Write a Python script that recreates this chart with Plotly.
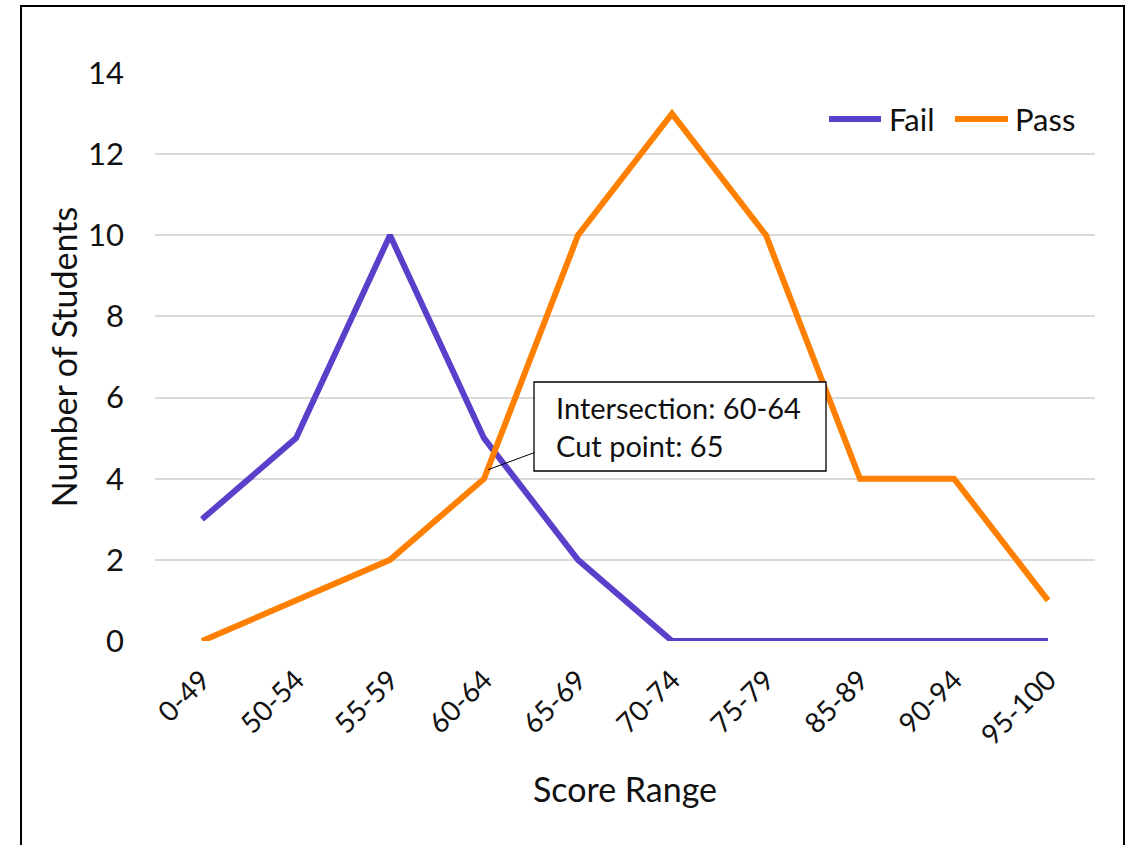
import plotly.graph_objects as go

# Score bands and student counts
score_ranges = ["0-49", "50-54", "55-59", "60-64", "65-69", "70-74",
                "75-79", "85-89", "90-94", "95-100"]
fail_counts = [3, 5, 10, 5, 2, 0, 0, 0, 0, 0]
pass_counts = [0, 1, 2, 4, 10, 13, 10, 4, 4, 1]
y_ticks = [0, 2, 4, 6, 8, 10, 12, 14]

FAIL_COLOR = "#5A3FCB"
PASS_COLOR = "#FF8000"
FONT = "Lato, 'Open Sans', sans-serif"
TEXT_COLOR = "#111111"

W, H = 1133, 845
L, R, T, B = 155, 38, 73, 204
PW, PH = W - L - R, H - T - B


def px_x(px):
    """Horizontal page pixel -> paper fraction."""
    return (px - L) / PW


def px_y(py):
    """Vertical page pixel (from top) -> paper fraction."""
    return (H - B - py) / PH


fig = go.Figure()
fig.add_trace(go.Scatter(
    x=score_ranges, y=fail_counts, name="Fail", mode="lines",
    line=dict(color=FAIL_COLOR, width=6), showlegend=False,
))
fig.add_trace(go.Scatter(
    x=score_ranges, y=pass_counts, name="Pass", mode="lines",
    line=dict(color=PASS_COLOR, width=6), showlegend=False,
))

shapes = []
annotations = []

# Legend: long line swatches followed by the series names
legend_items = [("Fail", FAIL_COLOR, 829, 881, 887), ("Pass", PASS_COLOR, 955, 1008, 1013)]
for label, color, lx0, lx1, tx in legend_items:
    shapes.append(dict(
        type="line", xref="paper", yref="paper",
        x0=px_x(lx0), x1=px_x(lx1), y0=px_y(119), y1=px_y(119),
        line=dict(color=color, width=6),
    ))
    annotations.append(dict(
        text=label, xref="paper", yref="paper", x=px_x(tx), y=px_y(119),
        xanchor="left", yanchor="middle", showarrow=False,
        font=dict(family=FONT, size=31, color=TEXT_COLOR),
    ))

# Callout box for the crossing of the two curves
shapes.append(dict(
    type="rect", xref="paper", yref="paper",
    x0=px_x(534), x1=px_x(826), y0=px_y(471), y1=px_y(382),
    line=dict(color="black", width=1.3), fillcolor="white", layer="above",
))
annotations.append(dict(
    text="Intersection: 60-64<br>Cut point: 65", xref="paper", yref="paper",
    x=px_x(554), y=px_y(427), xanchor="left", yanchor="middle",
    align="left", showarrow=False,
    font=dict(family=FONT, size=29, color=TEXT_COLOR),
))

# Leader line from the callout to the "60-64" crossing
cross_idx = score_ranges.index("60-64")
shapes.append(dict(
    type="line", xref="x", yref="y",
    xsizemode="pixel", ysizemode="pixel",
    xanchor=cross_idx, yanchor=pass_counts[cross_idx],
    x0=4, y0=9, x1=50, y1=26,
    line=dict(color="black", width=1),
))

# Outer frame around the chart
shapes.append(dict(
    type="rect", xref="paper", yref="paper",
    x0=px_x(21), x1=px_x(1124), y0=px_y(900), y1=px_y(6),
    line=dict(color="black", width=2), fillcolor="rgba(0,0,0,0)",
    layer="below",
))

fig.update_layout(
    width=W, height=H,
    margin=dict(l=L, r=R, t=T, b=B),
    paper_bgcolor="white", plot_bgcolor="white",
    font=dict(family=FONT, size=28, color=TEXT_COLOR),
    showlegend=False,
    shapes=shapes,
    annotations=annotations,
    xaxis=dict(
        title=dict(text="Score Range", font=dict(size=34), standoff=28),
        tickangle=-45, tickfont=dict(size=28),
        range=[-0.5, len(score_ranges) - 0.5],
        showgrid=False, showline=False, zeroline=False, ticks="",
        ticklabelstandoff=16,
    ),
    yaxis=dict(
        title=dict(text="Number of Students", font=dict(size=34), standoff=0),
        range=[0, 14], tickvals=y_ticks, tickfont=dict(size=31),
        showgrid=True, gridcolor="#D9D9D9", gridwidth=1.5,
        zeroline=False, showline=False, ticks="", ticklabelstandoff=30,
    ),
)

fig.write_html("out.html")
